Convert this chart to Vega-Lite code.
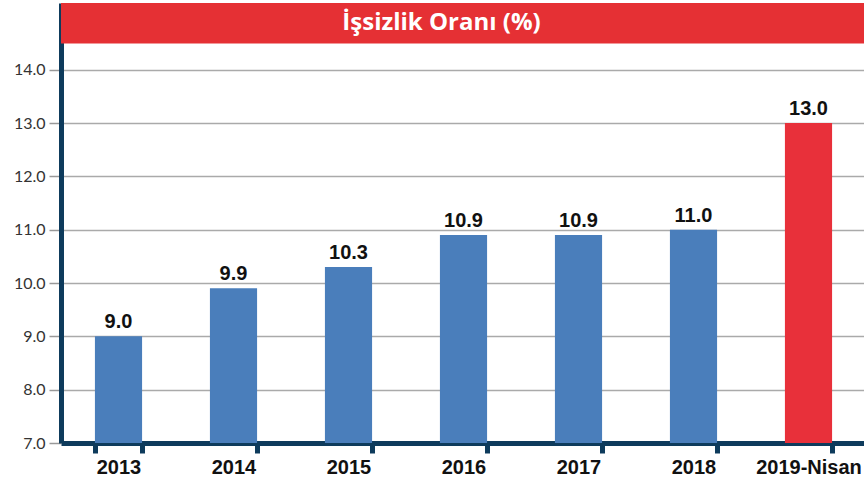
{
  "$schema": "https://vega.github.io/schema/vega-lite/v6.json",
  "width": 805,
  "height": 440,
  "autosize": "none",
  "padding": {"left": 61, "top": 3, "right": 0, "bottom": 40},
  "background": "white",
  "config": {"view": {"stroke": null}},
  "layer": [
    {
      "data": {"values": [
        {"year": "2013", "rate": 9.0},
        {"year": "2014", "rate": 9.9},
        {"year": "2015", "rate": 10.3},
        {"year": "2016", "rate": 10.9},
        {"year": "2017", "rate": 10.9},
        {"year": "2018", "rate": 11.0},
        {"year": "2019-Nisan", "rate": 13.0}
      ]},
      "encoding": {
        "x": {
          "field": "year", "type": "nominal", "sort": null,
          "scale": {"paddingInner": 0.59, "paddingOuter": 0.295},
          "axis": {
            "title": null, "labelAngle": 0, "labelFont": "Liberation Sans", "labelFontWeight": "bold",
            "labelFontSize": 20, "labelColor": "#111", "labelPadding": 4,
            "domainColor": "#0e3b5c", "domainWidth": 5,
            "tickBand": "extent", "tickColor": "#0e3b5c", "tickWidth": 5, "tickSize": 10,
            "grid": false
          }
        },
        "y": {
          "field": "rate", "type": "quantitative",
          "scale": {"domain": [7, 15.25], "nice": false, "zero": false},
          "axis": {
            "title": null, "values": [7, 8, 9, 10, 11, 12, 13, 14], "format": ".1f",
            "labelFont": "Lato", "labelFontSize": 16, "labelColor": "#333", "labelPadding": 4,
            "domainColor": "#0e3b5c", "domainWidth": 5,
            "tickColor": "#999", "tickSize": 12, "tickWidth": 1.5,
            "gridColor": "#aaa", "gridWidth": 1.5
          }
        }
      },
      "layer": [
        {
          "mark": {"type": "bar"},
          "encoding": {
            "y2": {"datum": 7},
            "color": {
              "field": "year", "type": "nominal",
              "scale": {"domain": ["2013", "2014", "2015", "2016", "2017", "2018", "2019-Nisan"],
                        "range": ["#4a7ebb", "#4a7ebb", "#4a7ebb", "#4a7ebb", "#4a7ebb", "#4a7ebb", "#e8303a"]},
              "legend": null
            }
          }
        },
        {
          "mark": {"type": "text", "baseline": "bottom", "dy": -4, "font": "Liberation Sans", "fontWeight": "bold", "fontSize": 20, "color": "#111"},
          "encoding": {"text": {"field": "rate", "type": "quantitative", "format": ".1f"}}
        }
      ]
    },
    {
      "data": {"values": [{"label": "İşsizlik Oranı (%)"}]},
      "layer": [
        {
          "mark": {"type": "rect", "color": "#e53034"},
          "encoding": {"y": {"datum": 14.49, "type": "quantitative"}, "y2": {"datum": 15.25}}
        },
        {
          "mark": {"type": "text", "color": "white", "font": "Open Sans", "fontWeight": "bold", "fontSize": 24, "baseline": "middle", "dx": -22},
          "encoding": {"y": {"datum": 14.87, "type": "quantitative"}, "text": {"field": "label"}}
        }
      ]
    }
  ]
}
